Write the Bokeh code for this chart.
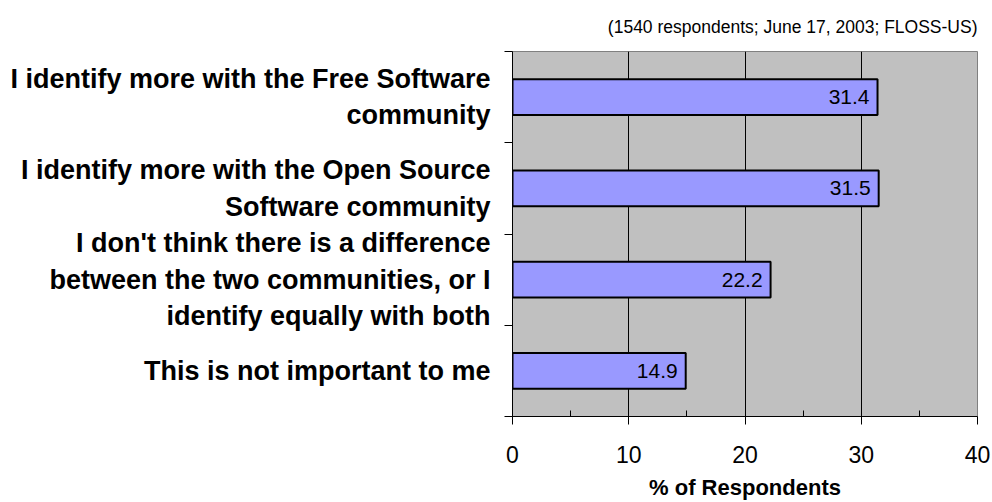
from bokeh.plotting import figure
from bokeh.layouts import row
from bokeh.models import ColumnDataSource, Range1d, FixedTicker
from bokeh.core.properties import value
from bokeh.embed import file_html
from bokeh.resources import INLINE

categories = [
    "I identify more with the Free Software\ncommunity",
    "I identify more with the Open Source\nSoftware community",
    "I don't think there is a difference\nbetween the two communities, or I\nidentify equally with both",
    "This is not important to me",
]
percent = [31.4, 31.5, 22.2, 14.9]
value_labels = ["31.4", "31.5", "22.2", "14.9"]
x_ticks = [0, 10, 20, 30, 40]
subtitle = "(1540 respondents; June 17, 2003; FLOSS-US)"
x_title = "% of Respondents"

FONT = "Liberation Sans"
n = len(categories)
ypos = [i + 0.5 for i in range(n)]
minor = [(a + b) / 2 for a, b in zip(x_ticks, x_ticks[1:])]
src = ColumnDataSource(dict(y=ypos, pct=percent, lab=value_labels, cat=categories))

y_range = Range1d(n, 0)
H = 502
TOP = 49
BOTTOM = 83

main = figure(width=500, height=H, x_range=Range1d(x_ticks[0], x_ticks[-1]), y_range=y_range,
              output_backend="svg", toolbar_location=None,
              min_border_top=TOP, min_border_bottom=BOTTOM, min_border_left=20, min_border_right=15)
main.title.text = subtitle
main.title.align = "right"
main.title.text_font = FONT
main.title.text_font_size = "17.5px"
main.title.text_font_style = "normal"
main.title.text_color = "black"
main.title.standoff = 29

main.background_fill_color = "#C0C0C0"
main.border_fill_color = "white"
main.outline_line_color = "#808080"
main.outline_line_width = 1

main.xgrid.grid_line_color = "black"
main.xgrid.grid_line_width = 1
main.ygrid.grid_line_color = None

xa = main.xaxis[0]
xa.ticker = FixedTicker(ticks=x_ticks, minor_ticks=minor)
xa.major_tick_out = 8
xa.major_tick_in = 0
xa.minor_tick_in = 6
xa.minor_tick_out = 0
xa.minor_tick_line_color = "black"
xa.major_tick_line_color = "black"
xa.axis_line_color = "black"
xa.major_label_text_font = FONT
xa.major_label_text_font_size = "23px"
xa.major_label_text_color = "black"
xa.major_label_standoff = 21
xa.axis_label = x_title
xa.axis_label_text_font = FONT
xa.axis_label_text_font_size = "22px"
xa.axis_label_text_font_style = "bold"
xa.axis_label_text_color = "black"
xa.axis_label_standoff = 9

ya = main.yaxis[0]
ya.ticker = FixedTicker(ticks=list(range(n + 1)), minor_ticks=[])
ya.major_tick_out = 8
ya.major_tick_in = 0
ya.major_tick_line_color = "black"
ya.axis_line_color = "black"
ya.major_label_text_font_size = "0px"
ya.major_label_standoff = 0
ya.major_label_overrides = {i: "" for i in range(n + 1)}

main.hbar(y="y", left=0, right="pct", height=0.39, fill_color="#9999FF",
          line_color="black", line_width=2, source=src)
main.text(x="pct", y="y", text="lab", text_align="right", text_baseline="middle",
          x_offset=-8, text_font=value(FONT), text_font_size="21px", text_color="black", source=src)

left = figure(width=492, height=H, x_range=Range1d(0, 1), y_range=y_range,
              output_backend="svg", toolbar_location=None,
              x_axis_location=None, y_axis_location=None,
              min_border_top=TOP, min_border_bottom=BOTTOM, min_border_left=0, min_border_right=0)
left.outline_line_color = None
left.xgrid.grid_line_color = None
left.ygrid.grid_line_color = None
left.background_fill_color = "white"
left.border_fill_color = "white"
left.text(x=1, y="y", text="cat", text_align="right", text_baseline="middle", x_offset=-2,
          text_font=value(FONT), text_font_style="bold", text_font_size="27px",
          text_line_height=1.22, text_color="black", source=src)

layout = row(left, main)
open("out.html", "w").write(file_html(layout, INLINE))
